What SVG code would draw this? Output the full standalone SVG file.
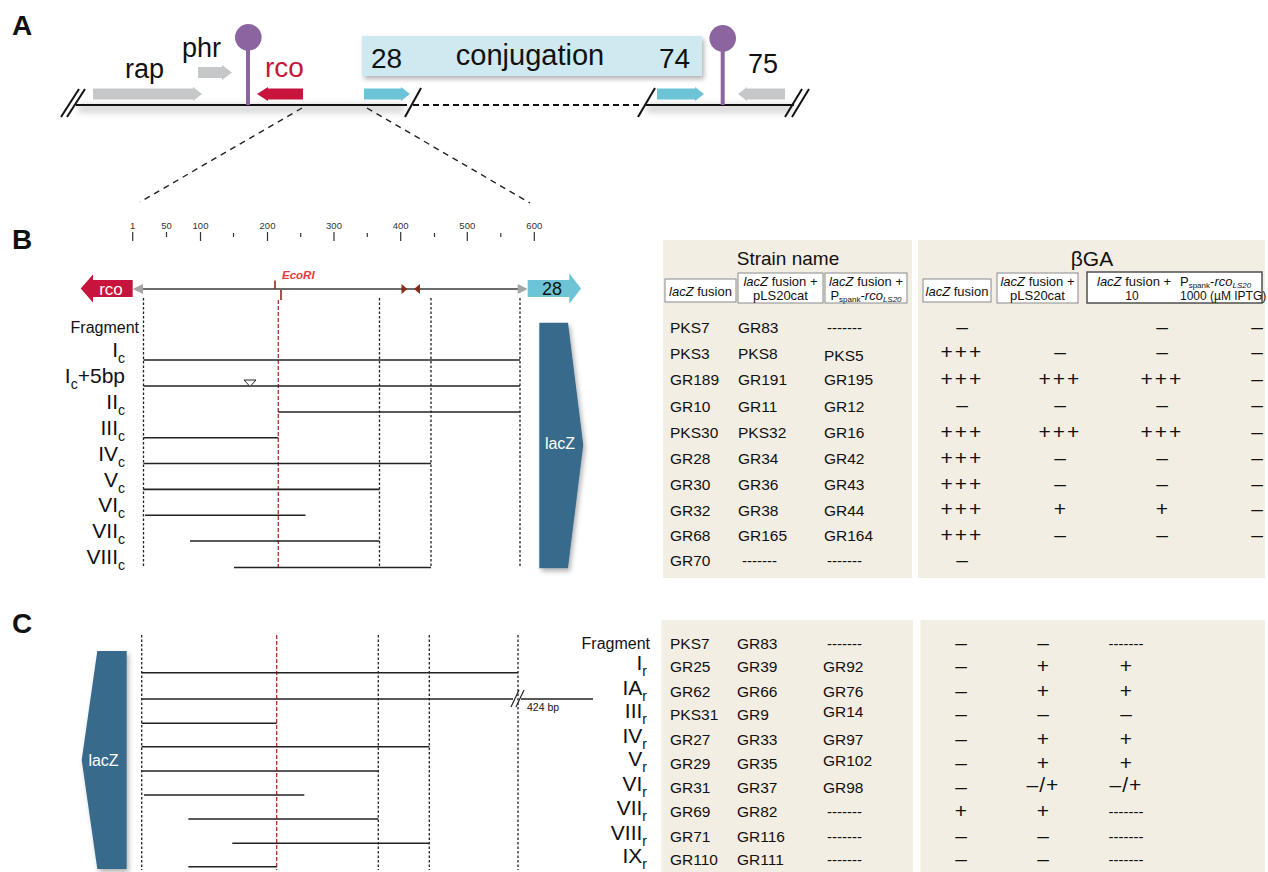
<svg xmlns="http://www.w3.org/2000/svg" width="1268" height="872" viewBox="0 0 1268 872">
<defs>
<style>
text{font-family:"Liberation Sans",Arial,sans-serif;fill:#111}
tspan{fill:#111}
.pl{font-size:28px;font-weight:bold}
.gene{font-size:27px}
.grey{fill:#c5c7c8}
.cyan{fill:#6cc4d6}
.red{fill:#c8143c}
.purple{fill:#8b64a0}
.ln{stroke:#111;stroke-width:2;fill:none}
.vd{stroke:#222;stroke-width:1.3;stroke-dasharray:2.5 2;fill:none}
.vr{stroke:#a3342a;stroke-width:1.3;stroke-dasharray:4 2;fill:none}
.frag{stroke:#222;stroke-width:1.6}
.rl{font-size:21px;text-anchor:end}
.fr{font-size:16px;text-anchor:end}
.tick{font-size:9.5px;text-anchor:middle;fill:#333}
.tk{stroke:#333;stroke-width:1.2}
.cell{font-size:15.5px}
.sym{font-size:21px;text-anchor:middle}
.dash{font-size:15px}
.dashm{font-size:15px;text-anchor:middle}
.panel{fill:#f3eee3}
.hbox{fill:#fff;stroke:#8a8a8a;stroke-width:1}
.hdr{font-size:13px;text-anchor:middle}
.lacz{fill:#386b8b}
.wt{fill:#fff}
</style>
<filter id="sh" x="-30%" y="-10%" width="170%" height="130%"><feDropShadow dx="2" dy="3" stdDeviation="2.5" flood-color="#000" flood-opacity="0.3"/></filter>
<filter id="blur" x="-5%" y="-100%" width="110%" height="300%"><feGaussianBlur stdDeviation="3"/></filter>
</defs>

<!-- Panel A -->
<g id="panelA">
<text class="pl" x="12" y="35">A</text>
<rect x="78" y="104" width="326" height="9" fill="#c8c8c8" opacity="0.7" filter="url(#blur)"/>
<rect x="646" y="104" width="146" height="9" fill="#c8c8c8" opacity="0.7" filter="url(#blur)"/>
<line class="ln" x1="76" y1="105" x2="407" y2="105"/>
<line class="ln" x1="413" y1="105" x2="641" y2="105" stroke-dasharray="6 4" stroke-width="1.8"/>
<line class="ln" x1="646" y1="105" x2="794" y2="105"/>
<line class="ln" x1="61" y1="117" x2="79" y2="89" stroke-width="1.8"/>
<line class="ln" x1="67" y1="117" x2="85" y2="89" stroke-width="1.8"/>
<line class="ln" x1="405" y1="117" x2="421" y2="88" stroke-width="1.8"/>
<line class="ln" x1="638" y1="117" x2="655" y2="88" stroke-width="1.8"/>
<line class="ln" x1="785" y1="117" x2="802" y2="89" stroke-width="1.8"/>
<line class="ln" x1="792" y1="117" x2="809" y2="89" stroke-width="1.8"/>
</g>
<g id="rap">
<polygon class="grey" points="93,88.5 193,88.5 193,87 202,94 193,101 193,99.5 93,99.5"/>
<text class="gene" x="125" y="78">rap</text>
</g>
<g id="phr">
<polygon class="grey" points="198,67 222,67 222,65 232,72.5 222,80 222,78 198,78"/>
<text class="gene" x="182" y="57">phr</text>
</g>
<g id="term1">
<rect class="purple" x="246" y="45" width="4" height="60"/>
<circle class="purple" cx="248.3" cy="37.3" r="13.3"/>
</g>
<g id="rcoA">
<polygon class="red" points="257,94 268,87 268,88.5 303,88.5 303,99.5 268,99.5 268,101"/>
<text x="265" y="77" font-size="28" style="fill:#c8143c">rco</text>
</g>
<g id="conjugation">
<rect x="362" y="36" width="340" height="40" fill="#cfe9f0" filter="url(#sh)"/>
<text x="371" y="68" font-size="28">28</text>
<text x="530" y="65" font-size="29" text-anchor="middle">conjugation</text>
<text x="659" y="68" font-size="28">74</text>
</g>
<g id="g28A">
<polygon class="cyan" points="364,88.5 401,88.5 401,87 410,94 401,101 401,99.5 364,99.5"/>
</g>
<g id="g74A">
<polygon class="cyan" points="657,88.5 695,88.5 695,87 704,94 695,101 695,99.5 657,99.5"/>
</g>
<g id="term2">
<rect class="purple" x="720.7" y="45" width="4" height="60"/>
<circle class="purple" cx="722.7" cy="38.3" r="13.3"/>
</g>
<g id="g75A">
<polygon class="grey" points="738,94 747,87 747,88.5 785,88.5 785,99.5 747,99.5 747,101"/>
<text class="gene" x="748" y="73">75</text>
</g>

<g id="connectors">
<line x1="302" y1="108" x2="140" y2="202" stroke="#222" stroke-width="1.4" stroke-dasharray="6 5"/>
<line x1="367" y1="108" x2="530" y2="203" stroke="#222" stroke-width="1.4" stroke-dasharray="6 5"/>
</g>

<!-- Panel B -->
<g id="panelB-map">
<text class="pl" x="12" y="249">B</text>
<g class="tk">
<line x1="132.7" y1="232" x2="132.7" y2="241"/>
<line x1="166.5" y1="232" x2="166.5" y2="237"/>
<line x1="200.5" y1="232" x2="200.5" y2="241"/>
<line x1="233.5" y1="233" x2="233.5" y2="237"/>
<line x1="267.5" y1="232" x2="267.5" y2="241"/>
<line x1="300.7" y1="233" x2="300.7" y2="237"/>
<line x1="334" y1="232" x2="334" y2="241"/>
<line x1="367.3" y1="233" x2="367.3" y2="237"/>
<line x1="400.7" y1="232" x2="400.7" y2="241"/>
<line x1="434.5" y1="233" x2="434.5" y2="237"/>
<line x1="467.3" y1="232" x2="467.3" y2="241"/>
<line x1="500.8" y1="233" x2="500.8" y2="237"/>
<line x1="534.3" y1="232" x2="534.3" y2="241"/>
</g>
<text class="tick" x="132.7" y="229">1</text>
<text class="tick" x="166.5" y="229">50</text>
<text class="tick" x="200.5" y="229">100</text>
<text class="tick" x="267.5" y="229">200</text>
<text class="tick" x="334" y="229">300</text>
<text class="tick" x="400.7" y="229">400</text>
<text class="tick" x="467.3" y="229">500</text>
<text class="tick" x="534.3" y="229">600</text>
<line x1="142" y1="289" x2="519" y2="289" stroke="#3a3a3a" stroke-width="1.6"/>
<polygon points="132.7,289 143,284 143,294" fill="#a5a5a5"/>
<polygon points="527.7,289 517.7,284 517.7,294" fill="#a5a5a5"/>
<polygon points="407.3,289 401.5,284 401.5,294" fill="#8b2a1a"/>
<polygon points="414,289 420,284 420,294" fill="#8b2a1a"/>
<line x1="275" y1="280.5" x2="275" y2="289" stroke="#8b2a1a" stroke-width="1.6"/>
<line x1="281" y1="290" x2="281" y2="300" stroke="#8b2a1a" stroke-width="1.6"/>
<text x="282" y="279" font-size="11.5" font-weight="bold" font-style="italic" style="fill:#e8383d">EcoRI</text>
</g>
<g id="rcoB">
<polygon class="red" points="80.7,288.5 93,274.5 93,280 132.7,280 132.7,297 93,297 93,302.5"/>
<text class="wt" x="111" y="294.5" font-size="17" text-anchor="middle" style="fill:#fff">rco</text>
</g>
<g id="g28B">
<polygon class="cyan" points="527.7,280 569.3,280 569.3,273.3 581,288.5 569.3,303.7 569.3,297 527.7,297"/>
<text x="552" y="294.5" font-size="18" text-anchor="middle">28</text>
</g>
<g id="lacZB">
<polygon class="lacz" points="539.3,322.7 568,322.7 583.3,445 568,568.3 539.3,568.3" filter="url(#sh)"/>
<text x="560" y="449" font-size="16" text-anchor="middle" style="fill:#fff">lacZ</text>
</g>
<g id="fragmentsB">
<line class="vd" x1="143.5" y1="298" x2="143.5" y2="568"/>
<line class="vr" x1="278.3" y1="300" x2="278.3" y2="568"/>
<line class="vd" x1="379.5" y1="298" x2="379.5" y2="568"/>
<line class="vd" x1="431" y1="298" x2="431" y2="568"/>
<line class="vd" x1="520" y1="298" x2="520" y2="568"/>
<line class="frag" x1="143.5" y1="360" x2="520" y2="360"/>
<line class="frag" x1="143.5" y1="386" x2="520" y2="386"/>
<polygon points="244,380 256,380 250,386.5" fill="#fff" stroke="#222" stroke-width="1"/>
<line class="frag" x1="278.3" y1="412" x2="520" y2="412"/>
<line class="frag" x1="143.5" y1="437.7" x2="278.3" y2="437.7"/>
<line class="frag" x1="143.5" y1="463.5" x2="431" y2="463.5"/>
<line class="frag" x1="143.5" y1="489.4" x2="379.5" y2="489.4"/>
<line class="frag" x1="145" y1="515.3" x2="305.5" y2="515.3"/>
<line class="frag" x1="190" y1="541" x2="379.5" y2="541"/>
<line class="frag" x1="234" y1="567.5" x2="431" y2="567.5"/>
<text class="fr" x="139" y="333">Fragment</text>
<text class="rl" x="125" y="357">I<tspan dy="6" font-size="14">c</tspan></text>
<text class="rl" x="125" y="383">I<tspan dy="6" font-size="14">c</tspan><tspan dy="-6">+5bp</tspan></text>
<text class="rl" x="125" y="409">II<tspan dy="6" font-size="14">c</tspan></text>
<text class="rl" x="125" y="435">III<tspan dy="6" font-size="14">c</tspan></text>
<text class="rl" x="125" y="461">IV<tspan dy="6" font-size="14">c</tspan></text>
<text class="rl" x="125" y="487">V<tspan dy="6" font-size="14">c</tspan></text>
<text class="rl" x="125" y="512">VI<tspan dy="6" font-size="14">c</tspan></text>
<text class="rl" x="125" y="538">VII<tspan dy="6" font-size="14">c</tspan></text>
<text class="rl" x="125" y="564">VIII<tspan dy="6" font-size="14">c</tspan></text>
</g>

<g id="tableB-strains">
<rect class="panel" x="663" y="240" width="249" height="338"/>
<text x="788" y="265" font-size="19" text-anchor="middle">Strain name</text>
<rect class="hbox" x="665" y="279" width="71" height="23"/>
<text class="hdr" x="700.5" y="295.5"><tspan font-style="italic">lacZ</tspan> fusion</text>
<rect class="hbox" x="738" y="273" width="85" height="30"/>
<text class="hdr" x="780.5" y="286"><tspan font-style="italic">lacZ</tspan> fusion +</text>
<text class="hdr" x="780.5" y="299.5">pLS20cat</text>
<rect class="hbox" x="825" y="273" width="82" height="30"/>
<text class="hdr" x="866" y="286"><tspan font-style="italic">lacZ</tspan> fusion +</text>
<text class="hdr" x="866" y="299.5">P<tspan font-size="8" dy="2">spank</tspan><tspan dy="-2">-</tspan><tspan font-style="italic">rco</tspan><tspan font-size="8" font-style="italic" dy="2">LS20</tspan></text>
<g class="cell">
<text x="670" y="333">PKS7</text><text x="738" y="333">GR83</text><text class="dash" x="827" y="333">-------</text>
<text x="670" y="358.5">PKS3</text><text x="738" y="358.5">PKS8</text><text x="824" y="361">PKS5</text>
<text x="670" y="385">GR189</text><text x="738" y="385">GR191</text><text x="824" y="385">GR195</text>
<text x="670" y="411.5">GR10</text><text x="738" y="411.5">GR11</text><text x="824" y="411.5">GR12</text>
<text x="670" y="438">PKS30</text><text x="738" y="438">PKS32</text><text x="824" y="438">GR16</text>
<text x="670" y="464">GR28</text><text x="738" y="464">GR34</text><text x="824" y="464">GR42</text>
<text x="670" y="490">GR30</text><text x="738" y="490">GR36</text><text x="824" y="490">GR43</text>
<text x="670" y="515.5">GR32</text><text x="738" y="515.5">GR38</text><text x="824" y="515.5">GR44</text>
<text x="670" y="541">GR68</text><text x="738" y="541">GR165</text><text x="824" y="541">GR164</text>
<text x="670" y="566">GR70</text><text class="dash" x="742" y="566">-------</text><text class="dash" x="827" y="566">-------</text>
</g>
</g>

<g id="tableB-bga">
<rect class="panel" x="918" y="240" width="347" height="338"/>
<text x="1092" y="266" font-size="21" text-anchor="middle">βGA</text>
<rect class="hbox" x="923" y="279" width="68" height="23"/>
<text class="hdr" x="957" y="295.5"><tspan font-style="italic">lacZ</tspan> fusion</text>
<rect class="hbox" x="997" y="273" width="81" height="30"/>
<text class="hdr" x="1037.5" y="286"><tspan font-style="italic">lacZ</tspan> fusion +</text>
<text class="hdr" x="1037.5" y="299.5">pLS20cat</text>
<rect x="1087" y="272" width="175" height="31" fill="#fff" stroke="#444" stroke-width="1.4"/>
<text x="1097" y="286" font-size="13"><tspan font-style="italic">lacZ</tspan> fusion +</text>
<text x="1180" y="286" font-size="13">P<tspan font-size="8" dy="2">spank</tspan><tspan dy="-2">-</tspan><tspan font-style="italic">rco</tspan><tspan font-size="8" font-style="italic" dy="2">LS20</tspan></text>
<text x="1132" y="299.5" font-size="12" text-anchor="middle">10</text>
<text x="1180" y="299.5" font-size="12">1000 (µM IPTG)</text>
<g class="sym">
<text x="962" y="334">–</text><text x="1162" y="334">–</text><text x="1257" y="334">–</text>
<text x="962" y="359" letter-spacing="2">+++</text><text x="1060" y="359">–</text><text x="1162" y="359">–</text><text x="1257" y="359">–</text>
<text x="962" y="385.5" letter-spacing="2">+++</text><text x="1060" y="385.5" letter-spacing="2">+++</text><text x="1162" y="385.5" letter-spacing="2">+++</text><text x="1257" y="385.5">–</text>
<text x="962" y="412">–</text><text x="1060" y="412">–</text><text x="1162" y="412">–</text><text x="1257" y="412">–</text>
<text x="962" y="438.5" letter-spacing="2">+++</text><text x="1060" y="438.5" letter-spacing="2">+++</text><text x="1162" y="438.5" letter-spacing="2">+++</text><text x="1257" y="438.5">–</text>
<text x="962" y="464.5" letter-spacing="2">+++</text><text x="1060" y="464.5">–</text><text x="1162" y="464.5">–</text><text x="1257" y="464.5">–</text>
<text x="962" y="490.5" letter-spacing="2">+++</text><text x="1060" y="490.5">–</text><text x="1162" y="490.5">–</text><text x="1257" y="490.5">–</text>
<text x="962" y="516" letter-spacing="2">+++</text><text x="1060" y="516">+</text><text x="1162" y="516">+</text><text x="1257" y="516">–</text>
<text x="962" y="541.5" letter-spacing="2">+++</text><text x="1060" y="541.5">–</text><text x="1162" y="541.5">–</text><text x="1257" y="541.5">–</text>
<text x="962" y="566.5">–</text>
</g>
</g>

<!-- Panel C -->
<g id="panelC-map">
<text class="pl" x="12" y="633">C</text>
<line class="vd" x1="141.7" y1="635" x2="141.7" y2="870"/>
<line class="vr" x1="276.7" y1="635" x2="276.7" y2="870"/>
<line class="vd" x1="378.3" y1="635" x2="378.3" y2="870"/>
<line class="vd" x1="429.3" y1="635" x2="429.3" y2="870"/>
<line class="vd" x1="518" y1="635" x2="518" y2="870"/>
<line class="frag" x1="141.7" y1="672.7" x2="518" y2="672.7"/>
<line class="frag" x1="141.7" y1="699" x2="513" y2="699"/>
<line class="frag" x1="521" y1="699" x2="593" y2="699"/>
<line x1="511" y1="707" x2="519" y2="690" stroke="#222" stroke-width="1.2"/>
<line x1="516" y1="707" x2="524" y2="690" stroke="#222" stroke-width="1.2"/>
<text x="527" y="711" font-size="10.5">424 bp</text>
<line class="frag" x1="141.7" y1="723.3" x2="276.7" y2="723.3"/>
<line class="frag" x1="141.7" y1="746.7" x2="429.3" y2="746.7"/>
<line class="frag" x1="141.7" y1="771" x2="378.3" y2="771"/>
<line class="frag" x1="144" y1="795" x2="304.3" y2="795"/>
<line class="frag" x1="188.3" y1="819" x2="378.3" y2="819"/>
<line class="frag" x1="232.3" y1="843.3" x2="429.3" y2="843.3"/>
<line class="frag" x1="188.3" y1="866.7" x2="276.7" y2="866.7"/>
</g>
<g id="lacZC">
<polygon class="lacz" points="126.7,651 97.3,651 81.7,760 97.3,869 126.7,869" filter="url(#sh)"/>
<text x="103.5" y="766" font-size="16" text-anchor="middle" style="fill:#fff">lacZ</text>
</g>
<g id="tableC-strains">
<rect class="panel" x="661.5" y="620" width="251.5" height="252"/>
<text class="fr" x="650" y="649">Fragment</text>
<text class="rl" x="647" y="670">I<tspan dy="6" font-size="14">r</tspan></text>
<text class="rl" x="647" y="695">IA<tspan dy="6" font-size="14">r</tspan></text>
<text class="rl" x="647" y="718">III<tspan dy="6" font-size="14">r</tspan></text>
<text class="rl" x="647" y="743">IV<tspan dy="6" font-size="14">r</tspan></text>
<text class="rl" x="647" y="766">V<tspan dy="6" font-size="14">r</tspan></text>
<text class="rl" x="647" y="791">VI<tspan dy="6" font-size="14">r</tspan></text>
<text class="rl" x="647" y="815">VII<tspan dy="6" font-size="14">r</tspan></text>
<text class="rl" x="647" y="840">VIII<tspan dy="6" font-size="14">r</tspan></text>
<text class="rl" x="647" y="863">IX<tspan dy="6" font-size="14">r</tspan></text>
<g class="cell">
<text x="670" y="649">PKS7</text><text x="737" y="649">GR83</text><text class="dash" x="827" y="649">-------</text>
<text x="670" y="672">GR25</text><text x="737" y="672">GR39</text><text x="823" y="672">GR92</text>
<text x="670" y="697">GR62</text><text x="737" y="697">GR66</text><text x="823" y="697">GR76</text>
<text x="670" y="720">PKS31</text><text x="737" y="720">GR9</text><text x="823" y="717">GR14</text>
<text x="670" y="745">GR27</text><text x="737" y="745">GR33</text><text x="823" y="745">GR97</text>
<text x="670" y="768.5">GR29</text><text x="737" y="768.5">GR35</text><text x="823" y="766">GR102</text>
<text x="670" y="793">GR31</text><text x="737" y="793">GR37</text><text x="823" y="793">GR98</text>
<text x="670" y="817">GR69</text><text x="737" y="817">GR82</text><text class="dash" x="827" y="817">-------</text>
<text x="670" y="842">GR71</text><text x="737" y="842">GR116</text><text class="dash" x="827" y="842">-------</text>
<text x="670" y="865">GR110</text><text x="737" y="865">GR111</text><text class="dash" x="827" y="865">-------</text>
</g>
</g>
<g id="tableC-bga">
<rect class="panel" x="920.5" y="620" width="344.5" height="252"/>
<g class="sym">
<text x="961" y="650">–</text><text x="1043" y="650">–</text><text class="dashm" x="1126" y="649">-------</text>
<text x="961" y="673">–</text><text x="1043" y="673">+</text><text x="1126" y="673">+</text>
<text x="961" y="698">–</text><text x="1043" y="698">+</text><text x="1126" y="698">+</text>
<text x="961" y="721">–</text><text x="1043" y="721">–</text><text x="1126" y="721">–</text>
<text x="961" y="746">–</text><text x="1043" y="746">+</text><text x="1126" y="746">+</text>
<text x="961" y="769.5">–</text><text x="1043" y="769.5">+</text><text x="1126" y="769.5">+</text>
<text x="961" y="794">–</text><text x="1043" y="792" letter-spacing="1">–/+</text><text x="1126" y="792" letter-spacing="1">–/+</text>
<text x="961" y="818">+</text><text x="1043" y="818">+</text><text class="dashm" x="1126" y="817">-------</text>
<text x="961" y="843">–</text><text x="1043" y="843">–</text><text class="dashm" x="1126" y="842">-------</text>
<text x="961" y="866">–</text><text x="1043" y="866">–</text><text class="dashm" x="1126" y="865">-------</text>
</g>
</g>
</svg>
